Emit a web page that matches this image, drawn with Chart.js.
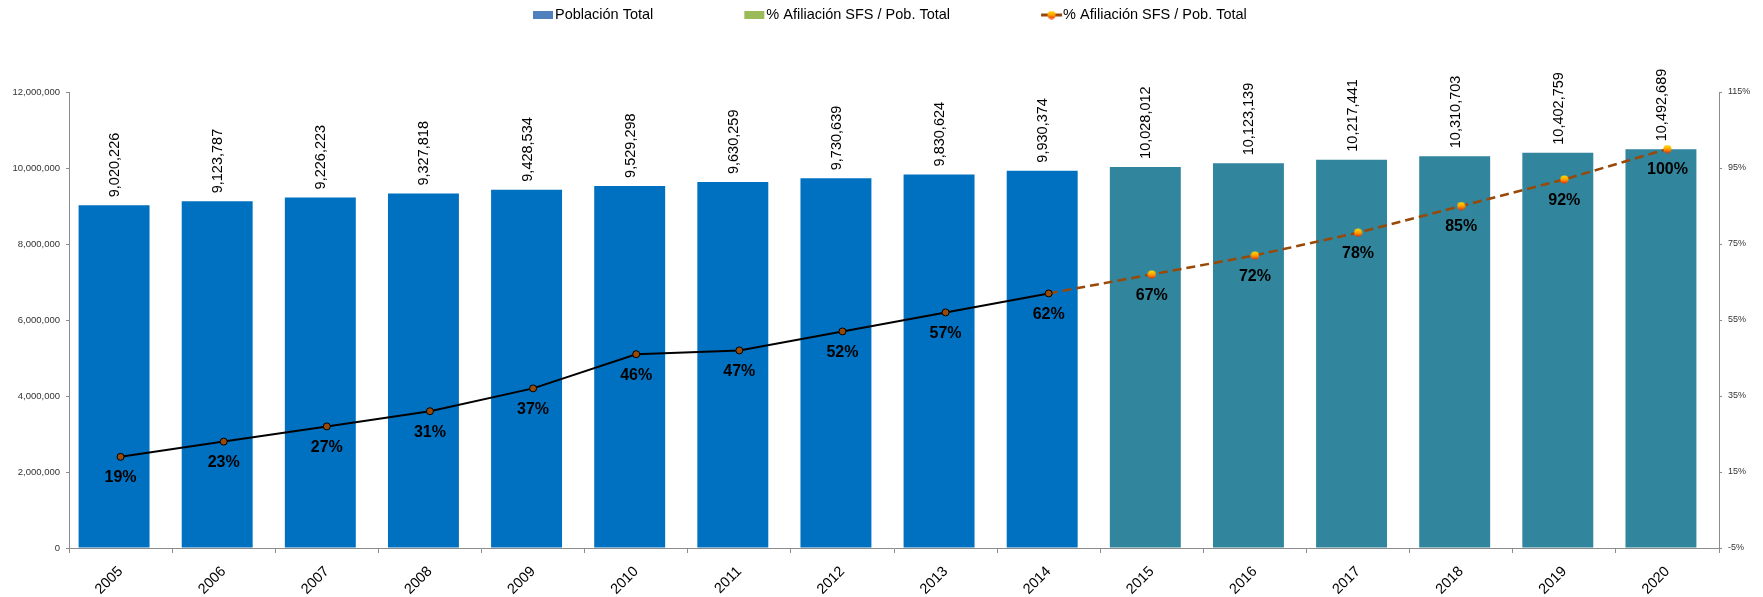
<!DOCTYPE html>
<html>
<head>
<meta charset="utf-8">
<title>Población total y % afiliación SFS</title>
<script src="https://cdn.jsdelivr.net/npm/chart.js@4.4.1/dist/chart.umd.min.js"></script>
<style>
  html, body { margin: 0; padding: 0; background: #fff; }
  #contenedor { width: 1763px; height: 597px; }
</style>
</head>
<body>
<div id="contenedor"><canvas id="grafico"></canvas></div>
<script>
// datos
const anios = ["2005", "2006", "2007", "2008", "2009", "2010", "2011", "2012",
  "2013", "2014", "2015", "2016", "2017", "2018", "2019", "2020"];
const poblacion = [9020226, 9123787, 9226223, 9327818, 9428534, 9529298, 9630259, 9730639,
  9830624, 9930374, 10028012, 10123139, 10217441, 10310703, 10402759, 10492689];
const porcAfiliacion = [19, 23, 27, 31, 37, 46, 47, 52, 57, 62, 67, 72, 78, 85, 92, 100];
// la serie verde de barras no tiene valores visibles
const afiliacionBarras = [null, null, null, null, null, null, null, null,
  null, null, null, null, null, null, null, null];
const ultimoReal = 9; // 2014, despues es proyeccion

const azul = "#0070C0";
const teal = "#31859C";
const marron = "#984807";
const gris = "#8C8C8C";
const fuente = "'Liberation Sans', Arial, sans-serif";

// marcador amarillo/rojo de la proyeccion
function crearMarcador() {
  const c = document.createElement("canvas");
  c.width = 9;
  c.height = 9;
  const g = c.getContext("2d");
  const grad = g.createLinearGradient(0, 0, 0, 9);
  grad.addColorStop(0, "#FFE600");
  grad.addColorStop(0.55, "#FF9A00");
  grad.addColorStop(1, "#E81E00");
  g.fillStyle = grad;
  g.beginPath();
  g.arc(4.5, 4.5, 4, 0, Math.PI * 2);
  g.fill();
  return c;
}
const marcador = crearMarcador();

const etiquetas = {
  id: "etiquetas",
  afterDatasetsDraw(chart) {
    const ctx = chart.ctx;
    ctx.save();
    ctx.fillStyle = "#000";
    ctx.font = "14.5px " + fuente;
    ctx.textAlign = "left";
    ctx.textBaseline = "middle";
    chart.getDatasetMeta(0).data.forEach((bar, i) => {
      ctx.save();
      ctx.translate(bar.x + 1, bar.y - 8);
      ctx.rotate(-Math.PI / 2);
      ctx.fillText(poblacion[i].toLocaleString("en-US"), 0, 0);
      ctx.restore();
    });
    ctx.font = "bold 16px " + fuente;
    ctx.textAlign = "center";
    chart.getDatasetMeta(2).data.forEach((p, i) => {
      ctx.fillText(porcAfiliacion[i] + "%", p.x, p.y + 21);
    });
    ctx.restore();
  }
};

const leyenda = {
  id: "leyenda",
  afterDraw(chart) {
    const ctx = chart.ctx;
    ctx.save();
    ctx.font = "14.5px " + fuente;
    ctx.textBaseline = "middle";
    let x = 533;
    const y = 15;
    chart.data.datasets.forEach(ds => {
      if (ds.type === "line") {
        ctx.strokeStyle = marron;
        ctx.lineWidth = 3;
        ctx.beginPath();
        ctx.moveTo(x, y);
        ctx.lineTo(x + 21, y);
        ctx.stroke();
        ctx.drawImage(marcador, x + 6, y - 4.5);
      } else {
        ctx.fillStyle = ds.legendColor;
        ctx.fillRect(x, y - 4, 20, 8);
      }
      ctx.fillStyle = "#000";
      ctx.fillText(ds.label, x + 22, y);
      x += 22 + ctx.measureText(ds.label).width + 91;
    });
    ctx.restore();
  }
};

new Chart(document.getElementById("grafico"), {
  data: {
    labels: anios,
    datasets: [
      {
        type: "bar",
        label: "Población Total",
        data: poblacion,
        backgroundColor: anios.map((a, i) => i <= ultimoReal ? azul : teal),
        legendColor: "#4F81BD",
        yAxisID: "y",
        order: 1
      },
      {
        type: "bar",
        label: "% Afiliación SFS / Pob. Total",
        data: afiliacionBarras,
        backgroundColor: "#9BBB59",
        legendColor: "#9BBB59",
        yAxisID: "y",
        order: 2
      },
      {
        type: "line",
        label: "% Afiliación SFS / Pob. Total",
        data: porcAfiliacion,
        yAxisID: "y1",
        borderColor: "#000",
        borderWidth: 2,
        tension: 0,
        pointRadius: 3.5,
        pointBorderWidth: 1,
        pointBorderColor: "#000",
        pointBackgroundColor: marron,
        pointStyle: anios.map((a, i) => i > ultimoReal ? marcador : "circle"),
        segment: {
          borderColor: c => c.p0DataIndex >= ultimoReal ? marron : "#000",
          borderDash: c => c.p0DataIndex >= ultimoReal ? [9, 5] : undefined,
          borderWidth: c => c.p0DataIndex >= ultimoReal ? 2.5 : 2
        },
        order: 0
      }
    ]
  },
  options: {
    responsive: true,
    maintainAspectRatio: false,
    animation: false,
    events: [],
    layout: { padding: { top: 92, left: 0, right: 0, bottom: 0 } },
    datasets: {
      // dos grupos como en excel: la barra azul queda corrida a la izquierda
      bar: { categoryPercentage: 0.252, barPercentage: 5.46 }
    },
    plugins: {
      legend: { display: false },
      tooltip: { enabled: false }
    },
    scales: {
      x: {
        grid: { drawOnChartArea: false, offset: true, tickLength: 5, color: gris },
        border: { color: gris },
        ticks: {
          maxRotation: 45, minRotation: 45, padding: 10, color: "#000",
          font: { family: fuente, size: 14.5 }
        },
        afterFit: s => { s.height = 49; }
      },
      y: {
        position: "left",
        min: 0,
        max: 12000000,
        grid: { drawOnChartArea: false, tickLength: 3, color: gris },
        border: { color: gris },
        ticks: {
          stepSize: 2000000, padding: 6, color: "#333",
          font: { family: fuente, size: 9.5 },
          callback: v => Number(v).toLocaleString("en-US")
        },
        afterFit: s => { s.width = 69; }
      },
      y1: {
        position: "right",
        min: -5,
        max: 115,
        grid: { drawOnChartArea: false, tickLength: 3, color: gris },
        border: { color: gris },
        ticks: {
          stepSize: 20, padding: 6, color: "#333",
          font: { family: fuente, size: 9 },
          callback: v => v + "%"
        },
        afterFit: s => { s.width = 44; }
      }
    }
  },
  plugins: [etiquetas, leyenda]
});
</script>
</body>
</html>
